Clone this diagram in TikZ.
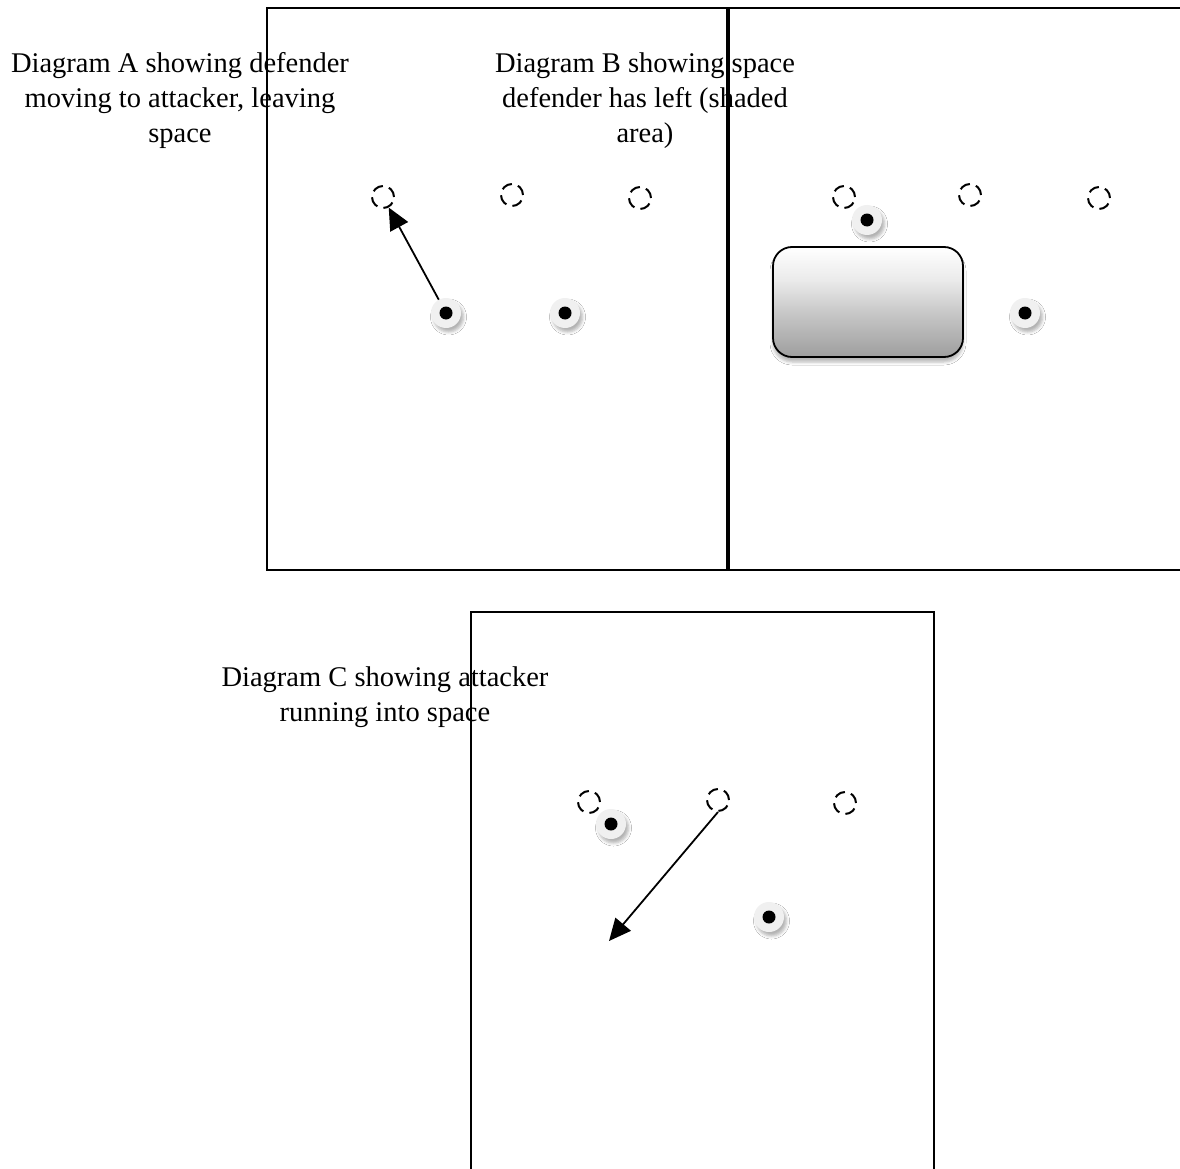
\documentclass[tikz,border=0pt]{standalone}
\usepackage{fontspec}
\setmainfont{Liberation Serif}
\usetikzlibrary{arrows.meta,shadows.blur}
\pgfdeclareverticalshading{spaceshade}{100bp}{color(0bp)=(black!38); color(25bp)=(black!38); color(45bp)=(black!22); color(60bp)=(black!8); color(75bp)=(white); color(100bp)=(white)}
\begin{document}
\begin{tikzpicture}[x=1pt,y=-1pt,
  panel/.style={draw=black,line width=2pt},
  caption/.style={align=center,font=\fontsize{28.5}{35}\selectfont,inner sep=0pt},
  oldpos/.style={circle,draw=black,dash pattern=on 11pt off 6.3pt,line width=2pt,minimum size=22pt,inner sep=0pt},
  player/.style={circle,fill=black!6,minimum size=30pt,inner sep=0pt,
    blur shadow={shadow xshift=2.5pt,shadow yshift=-4pt,shadow blur radius=3pt,shadow opacity=30},
    path picture={\fill[black] (path picture bounding box.center) circle (6.5pt);}},
  runarrow/.style={draw=black,line width=1.8pt,-{Triangle[length=22pt,width=20pt]}},
  space/.style={draw=black,line width=1.8pt,rounded corners=19pt,shading=spaceshade,
    minimum width=190pt,minimum height=110pt,inner sep=0pt,
    blur shadow={shadow xshift=0pt,shadow yshift=-5pt,shadow blur radius=3pt,shadow opacity=28}}
]
\useasboundingbox (0,0) rectangle (1180,1169);
\clip (0,0) rectangle (1180,1169);
\fill[white] (0,0) rectangle (1180,1169);

% captions
\node[caption] (capA) at (180,101) {Diagram A showing defender\\moving to attacker, leaving\\space};
\node[caption] (capB) at (645,101) {Diagram B showing space\\defender has left (shaded\\area)};
\node[caption] (capC) at (385,697) {Diagram C showing attacker\\running into space};

% panels
\node[panel,minimum width=460pt,minimum height=562pt,inner sep=0pt] (panA) at (497,289) {};
\draw[panel] (1200,8) -- (728.5,8) -- (728.5,570) -- (1200,570);
\coordinate (panB) at (955,289);
\draw[panel] (471,1200) -- (471,612) -- (934,612) -- (934,1200);
\coordinate (panC) at (702,890);

% diagram A
\node[oldpos] (dA1) at (383,197) {};
\node[oldpos] (dA2) at (512,195) {};
\node[oldpos] (dA3) at (640,198) {};
\node[player] (pA1) at (446,313) {};
\node[player] (pA2) at (565,313) {};
\draw[runarrow] (pA1) -- (dA1);

% diagram B
\node[space] (gap) at (868,302) {};
\node[oldpos] (dB1) at (844,197) {};
\node[oldpos] (dB2) at (970,195) {};
\node[oldpos] (dB3) at (1099,198) {};
\node[player] (pB1) at (867,220) {};
\node[player] (pB2) at (1025,313) {};

% diagram C
\node[oldpos] (dC1) at (589,802) {};
\node[oldpos] (dC2) at (718,800) {};
\node[oldpos] (dC3) at (845,803) {};
\node[player] (pC1) at (611,824) {};
\node[player] (pC2) at (769,917) {};
\coordinate (runEnd) at (609,941);
\draw[runarrow] (dC2.south) -- (runEnd);
\end{tikzpicture}
\end{document}
